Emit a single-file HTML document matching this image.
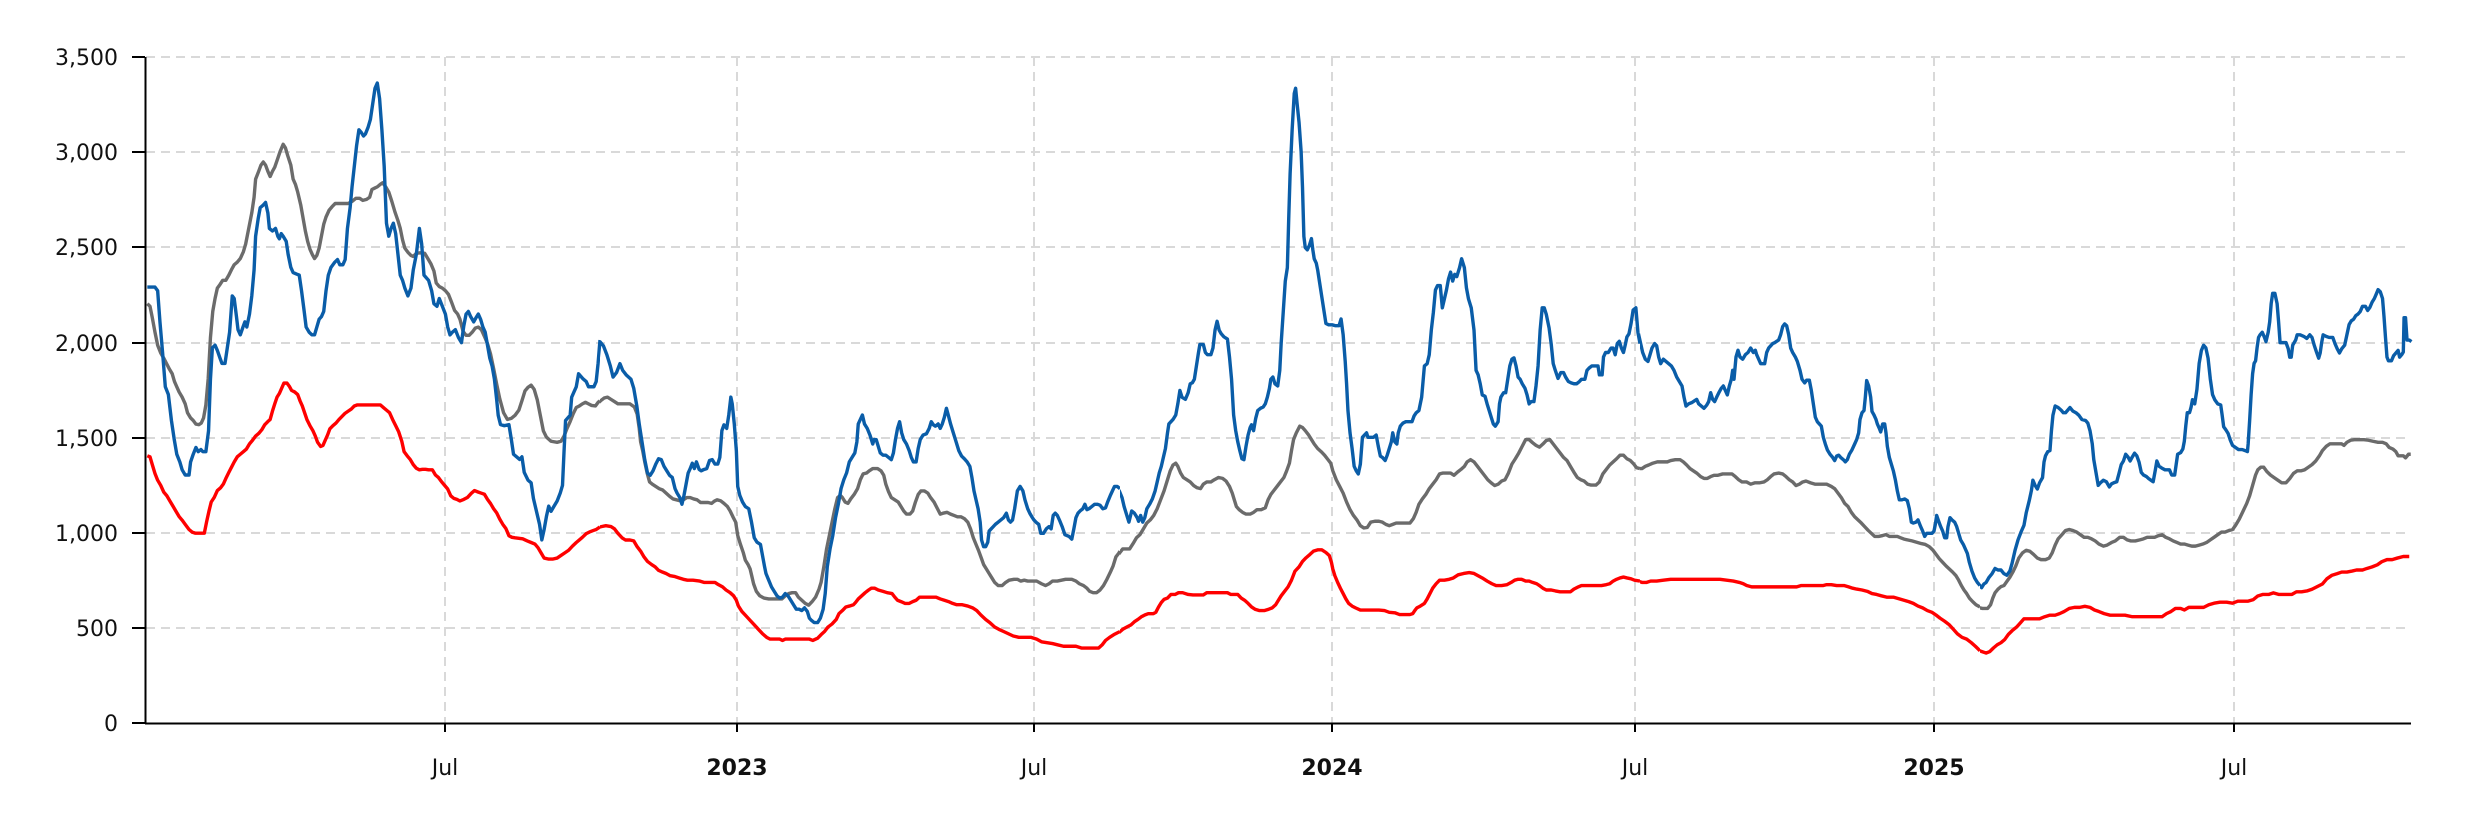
<!DOCTYPE html>
<html><head><meta charset="utf-8"><style>
html,body{margin:0;padding:0;background:#fff;}
svg{display:block;}
text{font-family:"DejaVu Sans","Liberation Sans",sans-serif;font-size:22px;fill:#111;}
.g{stroke:#d9d9d9;stroke-width:2;stroke-dasharray:9,6;fill:none;}
.s{fill:none;stroke-width:3.4;stroke-linejoin:round;vector-effect:non-scaling-stroke;}
.b{stroke:#0a5da8;} .k{stroke:#6b6b6b;} .r{stroke:#ff0000;}
</style></head><body>
<svg width="2482" height="814" viewBox="0 0 2482 814" xmlns="http://www.w3.org/2000/svg">
<defs>
<clipPath id="c1" clipPathUnits="userSpaceOnUse"><rect x="140" y="0" width="460" height="814"/></clipPath>
<clipPath id="c3" clipPathUnits="userSpaceOnUse"><rect x="600" y="0" width="520" height="814"/></clipPath>
<clipPath id="c4" clipPathUnits="userSpaceOnUse"><rect x="1120" y="0" width="520" height="814"/></clipPath>
<clipPath id="c5" clipPathUnits="userSpaceOnUse"><rect x="1640" y="0" width="340" height="814"/></clipPath>
<clipPath id="c2" clipPathUnits="userSpaceOnUse"><rect x="1980" y="0" width="440" height="814"/></clipPath>
</defs>
<!-- grid -->
<g class="g">
<line x1="146" y1="57" x2="2408" y2="57"/><line x1="146" y1="152" x2="2408" y2="152"/><line x1="146" y1="247" x2="2408" y2="247"/><line x1="146" y1="343" x2="2408" y2="343"/><line x1="146" y1="438" x2="2408" y2="438"/><line x1="146" y1="533" x2="2408" y2="533"/><line x1="146" y1="628" x2="2408" y2="628"/>
<line x1="445" y1="57" x2="445" y2="723"/><line x1="737" y1="57" x2="737" y2="723"/><line x1="1034" y1="57" x2="1034" y2="723"/><line x1="1332" y1="57" x2="1332" y2="723"/><line x1="1635" y1="57" x2="1635" y2="723"/><line x1="1934" y1="57" x2="1934" y2="723"/><line x1="2234" y1="57" x2="2234" y2="723"/>
</g>
<!-- axes -->
<g stroke="#000" stroke-width="2">
<line x1="145.5" y1="57" x2="145.5" y2="724"/><line x1="145" y1="723.5" x2="2411" y2="723.5"/>
<line x1="132" y1="57" x2="145" y2="57"/><line x1="132" y1="152" x2="145" y2="152"/><line x1="132" y1="247" x2="145" y2="247"/><line x1="132" y1="343" x2="145" y2="343"/><line x1="132" y1="438" x2="145" y2="438"/><line x1="132" y1="533" x2="145" y2="533"/><line x1="132" y1="628" x2="145" y2="628"/><line x1="132" y1="723" x2="145" y2="723"/>
<line x1="445" y1="723" x2="445" y2="732"/><line x1="737" y1="723" x2="737" y2="732"/><line x1="1034" y1="723" x2="1034" y2="732"/><line x1="1332" y1="723" x2="1332" y2="732"/><line x1="1635" y1="723" x2="1635" y2="732"/><line x1="1934" y1="723" x2="1934" y2="732"/><line x1="2234" y1="723" x2="2234" y2="732"/>
</g>
<g text-anchor="end">
<text x="118" y="65">3,500</text><text x="118" y="160">3,000</text><text x="118" y="255">2,500</text><text x="118" y="351">2,000</text><text x="118" y="446">1,500</text><text x="118" y="541">1,000</text><text x="118" y="636">500</text><text x="118" y="731">0</text>
</g>
<g text-anchor="middle">
<text x="445" y="775">Jul</text><text x="737" y="775" font-weight="bold">2023</text><text x="1034" y="775">Jul</text><text x="1332" y="775" font-weight="bold">2024</text><text x="1635" y="775">Jul</text><text x="1934" y="775" font-weight="bold">2025</text><text x="2234" y="775">Jul</text>
</g>

<!-- segment 1 -->
<g clip-path="url(#c1)"><g transform="scale(0.38265,0.51913)">
<polyline class="s r" points="385,878 392,880 398,895 405,912 412,925 420,935 428,948 436,955 444,965 452,975 460,985 468,995 476,1002 484,1010 494,1020 502,1025 510,1027 520,1027 534,1027 540,1005 546,985 552,967 560,958 568,945 576,940 584,932 590,922 598,910 605,900 612,890 620,880 628,875 636,870 644,865 652,855 660,848 668,840 676,835 684,828 692,818 700,812 706,808 712,792 718,778 724,765 730,758 736,748 742,738 750,738 756,744 762,752 770,755 778,760 784,772 790,782 796,795 802,808 810,820 818,830 824,840 830,852 838,860 844,858 850,848 856,838 862,826 870,820 878,815 886,808 894,802 902,796 910,792 918,788 926,782 934,780 944,780 960,780 980,780 994,780 1002,785 1010,790 1018,795 1026,808 1034,820 1042,832 1050,850 1056,870 1064,878 1072,885 1080,895 1088,902 1096,905 1104,904 1112,904 1120,905 1130,905 1138,915 1146,920 1154,928 1162,935 1170,942 1178,955 1186,960 1194,962 1202,965 1212,962 1222,958 1232,950 1240,945 1250,948 1258,950 1266,952 1274,962 1282,970 1290,980 1298,988 1306,1000 1314,1010 1322,1018 1330,1032 1338,1035 1346,1036 1356,1037 1366,1038 1378,1042 1388,1045 1398,1048 1406,1055 1414,1065 1422,1075 1434,1077 1444,1077 1456,1075 1466,1070 1476,1065 1486,1060 1496,1052 1506,1045 1514,1040 1522,1035 1532,1028 1540,1025 1550,1022 1558,1020 1568,1015"/>
<polyline class="s k" points="385,585 392,590 398,612 405,640 412,665 420,680 428,690 435,700 442,710 450,720 456,735 462,745 468,755 476,765 484,778 490,795 498,805 505,810 512,817 520,818 526,815 532,805 538,780 544,730 550,650 556,600 562,575 568,555 575,548 582,540 590,540 598,530 606,518 612,510 620,505 628,498 636,485 642,470 650,440 658,410 664,380 668,345 676,330 682,318 688,312 694,318 700,330 706,340 712,330 718,322 726,305 732,292 740,278 746,285 752,300 760,318 766,345 772,355 778,370 786,395 792,420 798,445 804,465 810,480 816,490 822,498 828,492 834,478 840,455 846,432 852,418 860,405 868,398 876,392 884,392 894,392 910,392 920,388 930,382 940,382 948,386 958,384 966,380 972,365 980,362 986,360 994,355 1000,352 1008,360 1016,370 1024,388 1032,408 1040,425 1046,440 1052,462 1058,478 1066,486 1074,492 1080,494 1088,488 1098,487 1110,488 1118,498 1126,508 1134,522 1140,545 1148,552 1156,555 1164,560 1172,567 1180,582 1188,598 1196,605 1202,615 1210,638 1218,646 1226,646 1234,640 1242,632 1250,630 1258,635 1266,648 1274,662 1282,682 1290,710 1298,740 1306,768 1316,795 1326,808 1336,806 1346,800 1356,790 1364,772 1372,753 1380,746 1388,742 1396,750 1404,770 1412,800 1420,830 1428,842 1440,850 1456,852 1466,850 1474,840 1482,825 1490,812 1498,797 1506,785 1514,782 1522,778 1530,775 1538,778 1546,781 1556,782 1563,775 1568,772"/>
<polyline class="s b" points="385,553 405,553 412,560 418,620 425,680 432,745 440,760 448,810 455,845 462,875 470,890 476,905 484,915 494,915 498,890 505,875 512,862 518,870 525,866 530,870 538,870 545,830 550,730 555,670 562,665 568,675 575,690 580,700 588,700 594,670 600,640 607,570 612,575 618,610 622,635 628,645 635,630 640,620 645,630 652,605 658,570 664,520 668,455 675,420 680,400 688,395 694,390 700,410 704,440 712,445 720,440 726,455 730,460 735,450 740,455 748,465 753,490 760,515 766,525 775,528 782,530 788,560 795,600 800,630 808,640 815,645 822,645 828,630 834,615 840,610 846,600 852,560 858,530 865,515 870,510 875,505 882,500 888,510 896,510 902,500 908,440 915,400 920,360 926,320 932,280 938,250 944,255 950,262 955,258 962,245 968,230 974,200 980,170 986,160 992,190 998,250 1004,320 1010,430 1016,455 1022,440 1028,430 1034,450 1040,490 1046,530 1052,540 1058,555 1066,570 1074,555 1080,520 1088,490 1096,440 1102,470 1108,530 1114,535 1120,540 1128,560 1134,585 1142,590 1148,575 1156,590 1164,605 1170,630 1176,645 1182,640 1190,635 1198,650 1206,660 1212,628 1218,605 1224,600 1230,610 1238,620 1244,612 1250,605 1256,615 1262,630 1268,640 1274,665 1280,690 1286,705 1292,730 1298,770 1302,800 1308,818 1318,820 1330,818 1336,845 1342,875 1350,880 1358,885 1364,880 1370,910 1380,925 1388,930 1394,960 1402,985 1410,1010 1416,1040 1422,1020 1428,995 1434,975 1440,985 1448,975 1456,965 1464,950 1470,935 1474,870 1478,810 1484,805 1490,800 1494,765 1500,755 1506,745 1512,720 1518,725 1524,730 1532,735 1538,745 1546,745 1552,745 1558,735 1563,700 1568,655"/>
</g></g>

<!-- segment 3 -->
<g clip-path="url(#c3)"><g transform="translate(580,40) scale(0.34439,0.44643)">
<polyline class="s r" points="0,1118 10,1115 20,1105 30,1098 42,1097 52,1092 62,1090 75,1088 90,1090 100,1095 110,1105 122,1115 132,1120 145,1120 156,1122 166,1135 176,1145 186,1158 196,1168 208,1175 218,1180 228,1188 240,1192 250,1195 262,1200 276,1202 288,1205 300,1208 312,1210 328,1210 348,1212 360,1215 376,1215 392,1215 402,1220 414,1225 424,1232 436,1238 446,1245 454,1255 460,1268 470,1280 482,1290 494,1300 506,1310 518,1320 530,1330 542,1338 552,1342 566,1342 580,1342 588,1345 596,1342 610,1342 630,1342 650,1342 666,1342 676,1345 690,1340 700,1332 710,1325 720,1315 732,1308 744,1298 752,1285 762,1278 772,1270 782,1268 794,1265 800,1260 808,1252 818,1245 828,1238 838,1232 846,1228 856,1228 866,1232 880,1235 892,1238 906,1240 914,1248 922,1255 932,1258 944,1262 956,1262 966,1258 976,1255 986,1248 1000,1248 1016,1248 1034,1248 1046,1252 1058,1255 1070,1258 1082,1262 1094,1265 1110,1265 1126,1268 1140,1272 1152,1278 1164,1288 1178,1298 1190,1305 1204,1315 1216,1320 1230,1325 1244,1330 1258,1335 1274,1338 1290,1338 1310,1338 1326,1342 1340,1348 1356,1350 1372,1352 1388,1355 1404,1358 1420,1358 1440,1358 1456,1362 1472,1362 1490,1362 1506,1362 1516,1355 1526,1345 1538,1338 1550,1332 1560,1328 1568,1325"/>
<polyline class="s k" points="0,825 8,820 18,815 28,818 40,820 50,815 60,808 70,802 80,800 90,805 100,810 110,815 130,815 145,815 158,822 166,838 172,870 176,900 182,920 188,945 195,970 202,990 210,995 220,1000 230,1005 240,1008 250,1015 260,1022 270,1028 280,1030 290,1032 300,1030 310,1025 320,1025 330,1028 340,1030 350,1036 360,1036 372,1036 382,1038 390,1033 398,1030 408,1032 418,1038 428,1045 436,1055 444,1068 452,1080 458,1110 466,1130 474,1148 480,1165 488,1175 494,1185 498,1198 504,1218 512,1235 522,1245 534,1250 548,1252 560,1252 574,1252 586,1252 596,1245 606,1240 616,1238 626,1238 634,1248 644,1255 654,1262 664,1266 674,1258 684,1248 694,1230 700,1215 708,1180 716,1140 724,1110 732,1080 740,1050 748,1025 756,1020 762,1025 770,1035 778,1038 786,1028 796,1018 806,1005 814,985 822,972 832,970 840,965 850,960 864,960 874,965 882,975 888,995 896,1012 904,1025 914,1030 924,1035 932,1045 940,1055 948,1062 958,1062 966,1055 974,1035 982,1018 990,1010 1000,1010 1010,1015 1018,1025 1028,1035 1038,1050 1046,1062 1054,1060 1066,1058 1076,1062 1086,1065 1096,1068 1106,1068 1116,1072 1126,1080 1134,1095 1142,1115 1150,1130 1158,1145 1166,1162 1172,1175 1180,1185 1188,1195 1196,1205 1204,1215 1214,1222 1226,1222 1236,1215 1246,1210 1260,1208 1270,1208 1280,1212 1290,1210 1300,1212 1312,1212 1326,1212 1340,1218 1352,1222 1362,1218 1372,1212 1386,1212 1398,1210 1410,1208 1428,1208 1440,1212 1450,1218 1462,1222 1472,1228 1480,1235 1490,1238 1500,1238 1510,1232 1520,1222 1530,1208 1540,1192 1548,1178 1556,1158 1564,1150 1568,1145"/>
<polyline class="s b" points="0,750 10,755 20,760 28,775 38,780 45,770 52,720 58,676 68,685 78,705 88,730 96,755 106,745 116,725 124,740 134,750 148,760 156,780 165,820 172,860 180,900 188,940 196,970 204,975 212,965 220,950 228,938 236,940 244,955 252,965 260,975 268,980 276,1005 282,1015 290,1025 296,1040 302,1020 308,995 314,970 320,960 326,948 332,960 338,945 346,962 352,965 360,962 368,960 376,942 384,940 392,950 400,950 406,935 412,875 418,862 426,870 432,840 438,800 442,815 448,860 454,920 458,1000 464,1020 472,1035 480,1045 490,1050 498,1080 506,1115 514,1125 524,1130 530,1155 536,1180 540,1195 548,1210 556,1225 564,1235 572,1245 580,1250 588,1248 596,1240 604,1245 612,1255 620,1265 628,1275 636,1275 644,1278 652,1272 660,1280 666,1295 672,1300 680,1305 690,1305 698,1295 706,1275 712,1240 718,1180 726,1140 734,1110 742,1070 750,1040 758,1005 766,985 774,970 782,945 790,935 798,925 804,900 808,860 814,850 820,840 826,860 834,870 842,885 846,895 850,905 854,895 860,895 866,910 872,925 880,930 888,930 896,935 904,940 910,925 916,895 922,870 928,855 934,880 940,895 948,905 956,920 962,935 968,945 976,945 982,915 988,895 996,885 1006,882 1014,870 1020,855 1026,862 1032,865 1040,860 1046,870 1052,860 1058,845 1064,825 1070,842 1076,860 1084,880 1092,900 1100,920 1108,932 1116,938 1124,945 1132,955 1138,980 1144,1010 1150,1030 1156,1050 1162,1080 1166,1120 1172,1135 1178,1135 1184,1125 1188,1100 1194,1095 1200,1090 1206,1085 1214,1080 1222,1075 1230,1070 1238,1060 1244,1075 1250,1080 1256,1075 1262,1050 1270,1010 1278,1000 1286,1010 1292,1030 1300,1050 1306,1060 1312,1068 1318,1075 1324,1080 1332,1085 1338,1105 1346,1105 1354,1095 1362,1090 1368,1095 1374,1065 1380,1060 1386,1065 1392,1075 1400,1090 1408,1108 1414,1110 1420,1112 1428,1118 1434,1095 1440,1070 1446,1060 1452,1055 1460,1050 1466,1040 1472,1052 1478,1050 1486,1045 1494,1040 1502,1040 1510,1042 1518,1050 1526,1048 1532,1035 1540,1020 1546,1010 1552,1000 1560,1000 1568,1005"/>
</g></g>

<!-- segment 4 -->
<g clip-path="url(#c4)"><g transform="translate(1100,40) scale(0.34439,0.44643)">
<polyline class="s r" points="0,1362 10,1355 20,1348 30,1340 42,1333 54,1328 66,1320 78,1315 90,1310 100,1303 110,1298 120,1292 130,1288 140,1285 155,1285 162,1282 170,1270 178,1260 186,1253 196,1250 206,1242 218,1242 228,1238 240,1238 256,1242 270,1243 284,1243 300,1243 310,1238 330,1238 350,1238 370,1238 380,1242 400,1242 410,1250 420,1255 430,1262 440,1270 450,1275 462,1278 478,1278 490,1275 500,1272 510,1265 518,1255 526,1245 536,1235 546,1225 556,1210 566,1190 578,1180 588,1168 598,1160 610,1152 620,1145 632,1142 644,1142 656,1148 666,1155 672,1170 676,1185 682,1200 690,1215 698,1228 706,1240 714,1252 722,1262 732,1268 742,1272 756,1277 772,1277 790,1277 810,1277 826,1278 840,1282 856,1283 870,1287 884,1287 900,1287 908,1285 914,1278 920,1272 930,1268 942,1262 950,1252 958,1240 966,1228 976,1218 986,1210 1000,1210 1014,1208 1026,1205 1040,1198 1056,1195 1072,1193 1086,1195 1098,1200 1110,1205 1124,1212 1138,1218 1150,1222 1166,1222 1182,1220 1194,1215 1204,1210 1214,1208 1224,1208 1236,1212 1246,1212 1256,1215 1268,1218 1276,1222 1286,1228 1296,1232 1310,1232 1322,1234 1336,1236 1350,1236 1366,1236 1376,1230 1386,1226 1398,1222 1412,1222 1424,1222 1440,1222 1456,1222 1470,1220 1480,1218 1490,1212 1500,1208 1510,1205 1520,1203 1530,1205 1542,1207 1552,1210 1568,1212"/>
<polyline class="s k" points="0,1235 10,1228 20,1215 30,1200 40,1185 46,1160 56,1150 66,1140 86,1140 96,1128 106,1115 116,1108 126,1095 136,1082 146,1075 156,1065 166,1050 176,1030 186,1010 196,985 204,965 212,952 220,948 226,955 234,970 242,980 252,985 262,990 272,998 282,1003 292,1005 300,995 310,990 322,990 332,985 344,980 356,982 366,988 376,1000 384,1015 390,1030 396,1045 404,1052 414,1058 424,1062 436,1062 446,1058 456,1052 468,1052 480,1048 488,1030 496,1018 504,1010 514,1000 524,990 534,980 542,965 550,948 556,920 562,895 570,880 580,865 588,868 596,875 606,885 614,895 622,905 632,915 642,922 652,930 662,940 670,948 676,965 686,985 696,1000 706,1015 716,1035 726,1052 736,1065 746,1075 756,1088 766,1093 776,1092 786,1080 798,1078 810,1078 820,1080 830,1085 840,1088 850,1085 860,1082 872,1082 884,1082 900,1082 910,1072 918,1058 926,1040 936,1028 946,1018 956,1005 966,995 976,985 986,972 996,970 1006,970 1018,970 1028,975 1038,968 1048,962 1058,955 1066,945 1076,940 1086,945 1096,955 1106,965 1116,975 1126,985 1136,992 1146,998 1156,995 1166,988 1176,985 1186,970 1196,950 1206,938 1216,925 1226,910 1236,895 1246,895 1256,902 1266,908 1276,912 1286,905 1296,897 1306,895 1316,905 1326,915 1336,925 1346,935 1356,942 1366,955 1376,968 1386,980 1396,985 1406,988 1416,995 1426,997 1440,997 1450,990 1460,972 1470,962 1480,952 1490,945 1500,938 1510,930 1520,930 1530,938 1540,942 1550,950 1558,958 1568,960"/>
<polyline class="s b" points="0,1040 10,1045 18,1050 25,1035 32,1020 40,1005 48,1002 56,1010 64,1025 70,1045 78,1065 84,1080 92,1055 100,1060 108,1070 112,1078 118,1065 124,1080 130,1070 136,1050 144,1040 152,1028 160,1010 166,990 172,970 178,955 184,935 190,915 196,880 200,860 206,855 212,850 220,840 226,815 232,785 238,800 248,805 256,790 262,770 268,768 274,760 280,730 286,700 290,682 300,682 306,700 312,705 322,705 328,690 334,650 340,630 346,650 352,658 360,665 370,670 376,710 382,760 388,840 394,875 400,900 406,920 412,938 418,940 424,910 430,885 436,868 440,862 446,875 452,848 458,830 466,825 474,822 480,815 486,800 492,780 496,760 502,755 508,770 516,775 522,740 526,680 532,610 538,540 544,510 548,400 552,300 558,200 564,120 568,108 572,140 578,185 584,250 588,330 592,440 596,465 602,470 608,460 614,445 618,470 622,490 628,500 632,515 638,545 644,575 650,605 656,635 664,638 674,638 684,640 694,640 700,625 706,660 712,720 716,770 720,830 726,880 732,915 738,955 744,965 750,972 756,950 762,890 768,885 774,880 778,890 784,890 794,890 802,885 808,910 814,932 820,935 828,942 834,930 840,915 846,900 850,880 856,900 862,905 866,880 872,865 880,858 888,855 898,855 906,855 912,842 918,835 926,830 934,800 938,765 942,730 950,725 956,705 962,650 968,610 974,560 980,550 988,550 994,600 1000,580 1006,560 1012,535 1018,520 1024,540 1030,525 1036,530 1044,510 1050,490 1058,510 1064,555 1070,580 1078,600 1086,650 1092,740 1098,750 1104,770 1110,795 1118,798 1124,815 1130,830 1136,845 1142,860 1148,865 1156,855 1160,815 1164,800 1172,790 1178,790 1184,760 1190,730 1196,715 1202,712 1208,730 1214,755 1220,760 1226,770 1234,780 1240,795 1246,815 1252,810 1260,810 1266,775 1272,730 1278,650 1284,600 1290,600 1296,615 1304,645 1310,680 1316,725 1322,740 1330,758 1338,745 1346,745 1352,755 1360,765 1368,768 1376,770 1384,770 1392,765 1398,760 1408,760 1414,740 1420,735 1428,730 1438,730 1446,730 1450,750 1458,750 1462,710 1468,700 1476,700 1484,690 1490,690 1496,705 1502,680 1508,675 1514,690 1520,700 1526,680 1530,665 1536,658 1542,635 1548,605 1556,600 1562,655 1568,680"/>
</g></g>

<!-- segment 5 -->
<g clip-path="url(#c5)"><g transform="translate(1580,40) scale(0.33333,0.44643)">
<polyline class="s r" points="0,1222 20,1222 30,1225 40,1225 60,1225 76,1225 88,1220 98,1215 106,1210 118,1205 130,1200 140,1200 150,1205 162,1210 174,1212 186,1215 200,1215 212,1212 230,1212 250,1210 272,1208 300,1208 330,1208 360,1208 392,1208 420,1208 440,1210 460,1212 478,1215 490,1218 500,1222 515,1225 530,1225 560,1225 590,1225 620,1225 650,1225 664,1222 690,1222 710,1222 730,1222 740,1220 754,1220 770,1222 792,1222 806,1225 818,1228 830,1230 846,1232 862,1235 876,1240 890,1242 904,1245 920,1248 940,1248 958,1252 972,1255 986,1258 1000,1262 1014,1268 1028,1272 1042,1278 1056,1282 1068,1288 1080,1295 1094,1302 1108,1310 1120,1320 1132,1330 1146,1338 1160,1342 1174,1350 1186,1358 1200,1368"/>
<polyline class="s k" points="0,982 10,985 18,990 26,995 40,995 50,995 58,985 66,970 76,960 86,952 96,945 106,938 116,932 126,930 136,935 146,942 156,948 166,955 172,960 186,960 196,955 206,952 218,948 232,945 250,945 262,945 272,942 286,940 300,940 310,945 320,952 330,960 340,965 350,970 362,978 372,982 382,982 392,978 402,975 414,975 428,972 442,972 456,972 466,978 476,985 486,990 500,990 512,995 524,992 538,992 552,990 562,985 572,978 582,972 596,970 608,972 618,978 628,985 638,990 648,998 658,995 668,990 678,988 692,992 706,995 720,995 740,995 754,1000 764,1005 774,1015 784,1025 794,1038 804,1045 814,1058 824,1068 834,1075 844,1082 854,1090 864,1098 874,1105 884,1112 896,1112 908,1110 918,1108 928,1112 940,1112 952,1112 962,1115 972,1118 984,1120 996,1122 1010,1125 1024,1128 1036,1130 1048,1135 1058,1142 1068,1152 1078,1162 1088,1170 1098,1178 1108,1185 1118,1192 1128,1200 1136,1210 1144,1222 1152,1232 1160,1240 1168,1250 1178,1258 1188,1265 1200,1270"/>
<polyline class="s b" points="0,765 10,760 20,760 26,740 36,730 48,728 54,745 66,745 72,705 82,700 90,698 96,692 100,705 108,685 114,680 120,695 126,710 130,700 136,670 142,660 148,660 152,640 158,615 164,605 170,640 176,660 182,680 188,700 196,715 204,720 210,705 216,690 224,680 230,685 236,710 242,725 250,715 258,720 266,725 274,730 282,740 290,755 298,765 306,775 312,800 318,820 326,815 336,812 344,808 350,805 356,815 364,820 372,825 380,818 386,810 392,790 398,805 404,810 410,800 418,788 424,780 430,775 436,785 442,795 448,775 454,760 458,740 462,760 468,710 474,695 480,710 488,715 496,705 504,700 512,690 520,700 526,695 530,705 536,715 542,725 548,725 554,725 560,700 566,690 572,685 578,680 584,678 590,675 596,672 602,660 608,642 614,636 620,640 626,660 632,690 638,700 646,710 652,720 660,740 666,760 674,768 680,762 688,762 694,785 700,815 706,845 712,855 718,860 724,865 730,890 736,905 742,918 750,928 758,935 764,942 770,932 776,930 782,935 790,940 796,945 802,940 808,928 816,918 824,905 830,895 836,880 840,850 846,835 852,830 856,800 860,763 866,775 872,800 876,832 882,840 888,850 892,860 898,870 902,878 908,860 914,860 918,880 922,910 928,935 934,950 940,965 946,985 952,1010 958,1030 966,1030 974,1028 982,1032 988,1050 994,1080 1000,1082 1008,1080 1014,1075 1022,1090 1028,1100 1034,1112 1040,1105 1048,1105 1056,1105 1062,1100 1066,1085 1070,1065 1076,1078 1082,1090 1088,1100 1094,1115 1100,1115 1104,1090 1110,1070 1116,1075 1124,1080 1130,1090 1136,1105 1142,1120 1150,1130 1156,1140 1162,1150 1168,1170 1176,1190 1184,1205 1192,1215 1200,1222"/>
</g></g>

<!-- segment 2 -->
<g clip-path="url(#c2)"><g transform="translate(1900,0) scale(0.37117,0.51913)">
<polyline class="s r" points="0,1155 10,1158 20,1162 34,1162 46,1168 60,1172 72,1178 84,1182 96,1188 108,1195 120,1200 132,1208 146,1215 156,1225 168,1230 180,1235 190,1240 200,1245 210,1252 220,1255 232,1258 242,1255 252,1248 262,1242 272,1238 282,1232 292,1222 302,1215 314,1208 324,1200 334,1192 348,1192 362,1192 376,1192 390,1188 404,1185 418,1185 430,1182 442,1178 456,1172 470,1170 484,1170 498,1168 512,1170 524,1175 536,1178 550,1182 566,1185 584,1185 606,1185 626,1188 646,1188 666,1188 686,1188 706,1188 718,1182 730,1178 742,1172 756,1172 766,1175 778,1170 796,1170 818,1170 832,1165 846,1162 862,1160 880,1160 896,1162 910,1158 924,1158 938,1158 952,1155 964,1148 978,1145 994,1145 1006,1142 1020,1145 1038,1145 1056,1145 1068,1140 1082,1140 1098,1138 1110,1135 1124,1130 1138,1125 1150,1115 1164,1108 1178,1105 1190,1102 1204,1102 1218,1100 1230,1098 1246,1098 1258,1095 1272,1092 1286,1088 1298,1082 1312,1078 1326,1078 1340,1075 1356,1072 1372,1072"/>
<polyline class="s k" points="0,1030 12,1035 24,1040 36,1042 48,1045 60,1048 72,1050 84,1055 92,1065 100,1072 108,1078 116,1082 124,1090 132,1098 140,1105 148,1110 156,1118 162,1128 170,1138 178,1145 186,1155 194,1162 202,1168 210,1170 222,1172 236,1172 244,1165 250,1152 256,1142 264,1135 272,1130 280,1128 288,1120 296,1112 304,1102 312,1090 320,1075 330,1065 340,1060 350,1062 360,1068 370,1075 380,1078 392,1078 402,1075 410,1065 418,1050 426,1038 436,1030 446,1022 456,1020 466,1022 476,1025 486,1030 496,1035 506,1035 516,1038 526,1042 536,1048 548,1052 558,1050 570,1045 580,1042 592,1035 602,1035 612,1040 622,1042 634,1042 646,1040 656,1038 666,1035 676,1035 686,1035 696,1032 706,1030 716,1035 726,1038 736,1042 746,1045 756,1048 766,1048 776,1050 786,1052 796,1052 806,1050 816,1048 826,1045 836,1040 846,1035 856,1030 866,1025 876,1025 886,1022 896,1020 904,1012 914,1000 924,985 934,970 942,955 950,935 958,915 964,905 972,900 980,900 988,908 998,915 1008,920 1018,925 1028,930 1040,930 1050,922 1060,912 1070,907 1080,907 1090,905 1100,900 1110,895 1120,888 1130,878 1138,868 1148,860 1158,855 1170,855 1180,855 1190,855 1196,858 1204,852 1214,848 1224,847 1236,847 1250,847 1262,848 1274,850 1288,852 1300,852 1310,855 1318,862 1328,865 1336,870 1342,878 1350,878 1356,878 1362,882 1370,875 1376,875"/>
<polyline class="s b" points="0,965 10,960 20,965 26,980 32,1005 42,1005 46,995 52,1005 58,1012 64,1028 72,1028 82,1028 90,1025 98,995 104,1008 110,1022 116,1030 120,1035 126,1035 130,1012 136,995 146,1002 154,1010 160,1025 166,1038 172,1052 180,1058 186,1062 190,1080 196,1105 204,1118 212,1125 220,1132 226,1125 232,1122 240,1112 248,1105 256,1095 264,1098 272,1098 280,1105 288,1108 296,1100 302,1085 310,1060 318,1040 326,1025 334,1012 340,988 348,965 354,945 358,925 364,935 370,942 376,930 384,920 388,890 392,878 398,870 404,868 408,830 412,800 418,782 426,785 434,790 440,795 446,795 452,790 458,785 466,792 474,795 482,800 490,808 500,810 506,815 512,830 518,855 522,885 528,910 534,935 540,930 548,925 556,928 564,938 570,932 576,930 584,928 590,912 596,895 602,888 608,875 614,880 620,888 626,880 632,873 638,878 644,890 650,910 656,915 664,918 670,922 676,925 682,928 688,905 692,888 698,898 706,902 714,905 722,905 726,905 732,915 740,915 744,895 748,875 756,872 762,865 766,850 770,820 774,795 780,795 784,785 788,770 794,778 800,750 806,700 812,675 818,665 824,670 830,690 836,730 842,760 848,770 856,778 864,780 868,800 872,822 878,828 884,835 890,848 896,858 904,862 912,866 922,866 930,868 936,870 938,855 942,810 946,760 950,720 954,700 958,695 962,670 966,650 970,645 976,640 982,650 986,658 992,640 996,620 1000,585 1004,565 1010,565 1016,585 1020,620 1024,660 1034,660 1040,660 1046,672 1050,688 1054,688 1058,665 1066,655 1070,645 1078,645 1088,648 1096,652 1104,645 1110,650 1116,665 1122,678 1128,690 1132,680 1136,660 1140,645 1148,648 1156,650 1166,650 1172,662 1178,672 1184,680 1190,672 1198,665 1204,645 1210,625 1216,618 1222,615 1228,608 1234,605 1240,600 1246,590 1254,590 1260,598 1266,592 1272,582 1278,575 1284,565 1288,558 1294,562 1300,575 1304,610 1308,650 1312,688 1316,695 1324,695 1330,685 1336,680 1342,675 1346,688 1352,683 1356,678 1358,612 1362,612 1366,655 1372,655 1378,658"/>
</g></g>
</svg>
</body></html>
